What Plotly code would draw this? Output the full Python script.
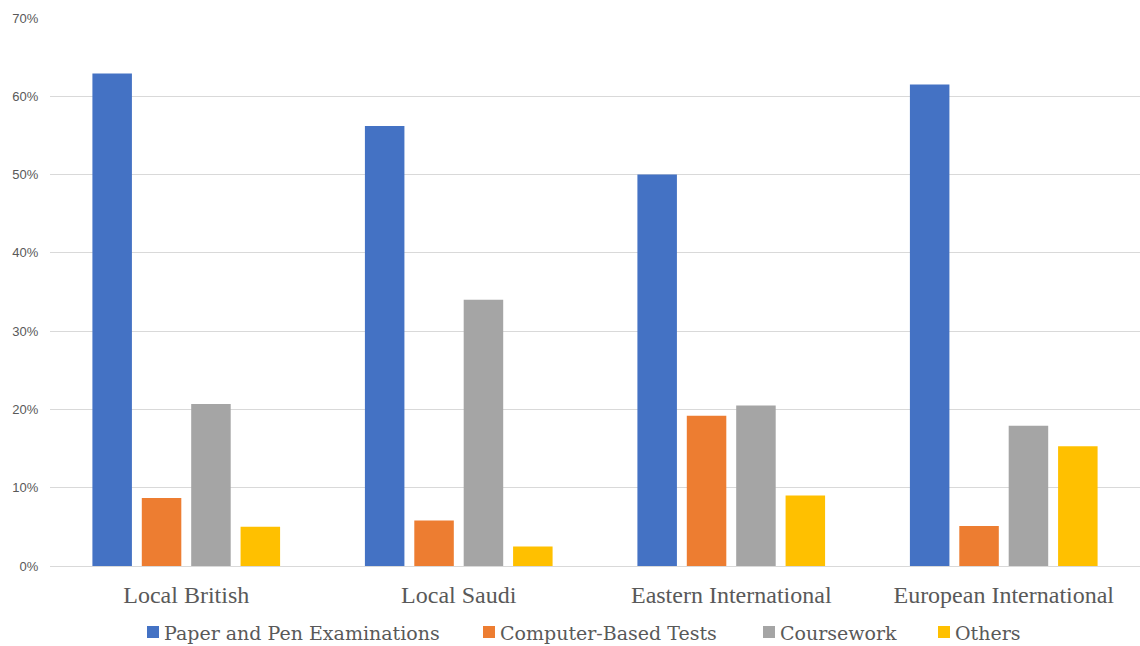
import plotly.graph_objects as go

categories = ["Local British", "Local Saudi", "Eastern International", "European International"]
series_names = ["Paper and Pen Examinations", "Computer-Based Tests", "Coursework", "Others"]
paper_pen = [62.9, 56.2, 50.0, 61.5]
computer_based = [8.7, 5.8, 19.2, 5.1]
coursework = [20.7, 34.0, 20.5, 17.9]
others = [5.0, 2.5, 9.0, 15.3]
colors = ["#4472C4", "#ED7D31", "#A5A5A5", "#FFC000"]
y_ticks = [0, 10, 20, 30, 40, 50, 60, 70]
y_tick_labels = [f"{v}%" for v in y_ticks]

SERIF = "Liberation Serif"
LEGEND_FONT = "DejaVu Serif"
W, H = 1140, 646
ML, MR, MT, MB = 50, 0, 18, 80
PW, PH = W - ML - MR, H - MT - MB

# custom legend row layout (pixels)
legend_left_px = [147, 483, 763, 938]
legend_center_y_px = 632
swatch_px = 12


def px_to_paper_x(px):
    return (px - ML) / PW


def px_to_paper_y(py):
    return (H - MB - py) / PH


fig = go.Figure()
for name, vals, col in zip(series_names, [paper_pen, computer_based, coursework, others], colors):
    fig.add_trace(go.Bar(x=categories, y=vals, name=name,
                         marker=dict(color=col, line=dict(width=0))))

shapes = []
annotations = []
for name, col, lx in zip(series_names, colors, legend_left_px):
    shapes.append(dict(type="rect", xref="paper", yref="paper",
                       x0=px_to_paper_x(lx), x1=px_to_paper_x(lx + swatch_px),
                       y0=px_to_paper_y(legend_center_y_px + swatch_px / 2),
                       y1=px_to_paper_y(legend_center_y_px - swatch_px / 2),
                       fillcolor=col, line=dict(width=0)))
    annotations.append(dict(xref="paper", yref="paper",
                            x=px_to_paper_x(lx + swatch_px + 3), xanchor="left",
                            y=px_to_paper_y(legend_center_y_px + 1), yanchor="middle",
                            text=name, showarrow=False,
                            font=dict(family=LEGEND_FONT, size=19, color="#595959")))

fig.update_layout(
    width=W, height=H,
    margin=dict(l=ML, r=MR, t=MT, b=MB, autoexpand=False),
    paper_bgcolor="white", plot_bgcolor="white",
    font=dict(family=SERIF, color="#595959"),
    barmode="group", bargap=0.275, bargroupgap=0.2,
    showlegend=False,
    shapes=shapes,
    annotations=annotations,
    xaxis=dict(tickfont=dict(family=SERIF, size=24, color="#595959"),
               ticks="outside", ticklen=7, tickcolor="rgba(0,0,0,0)",
               showline=False, showgrid=False),
    yaxis=dict(range=[0, 70], tickvals=y_ticks, ticktext=y_tick_labels,
               tickfont=dict(family="Liberation Sans", size=13, color="#595959"),
               showgrid=True, gridcolor="#D9D9D9", gridwidth=1,
               zeroline=True, zerolinecolor="#D9D9D9", zerolinewidth=1,
               ticks="outside", ticklen=8, tickcolor="rgba(0,0,0,0)"),
)

fig.write_html("out.html")
